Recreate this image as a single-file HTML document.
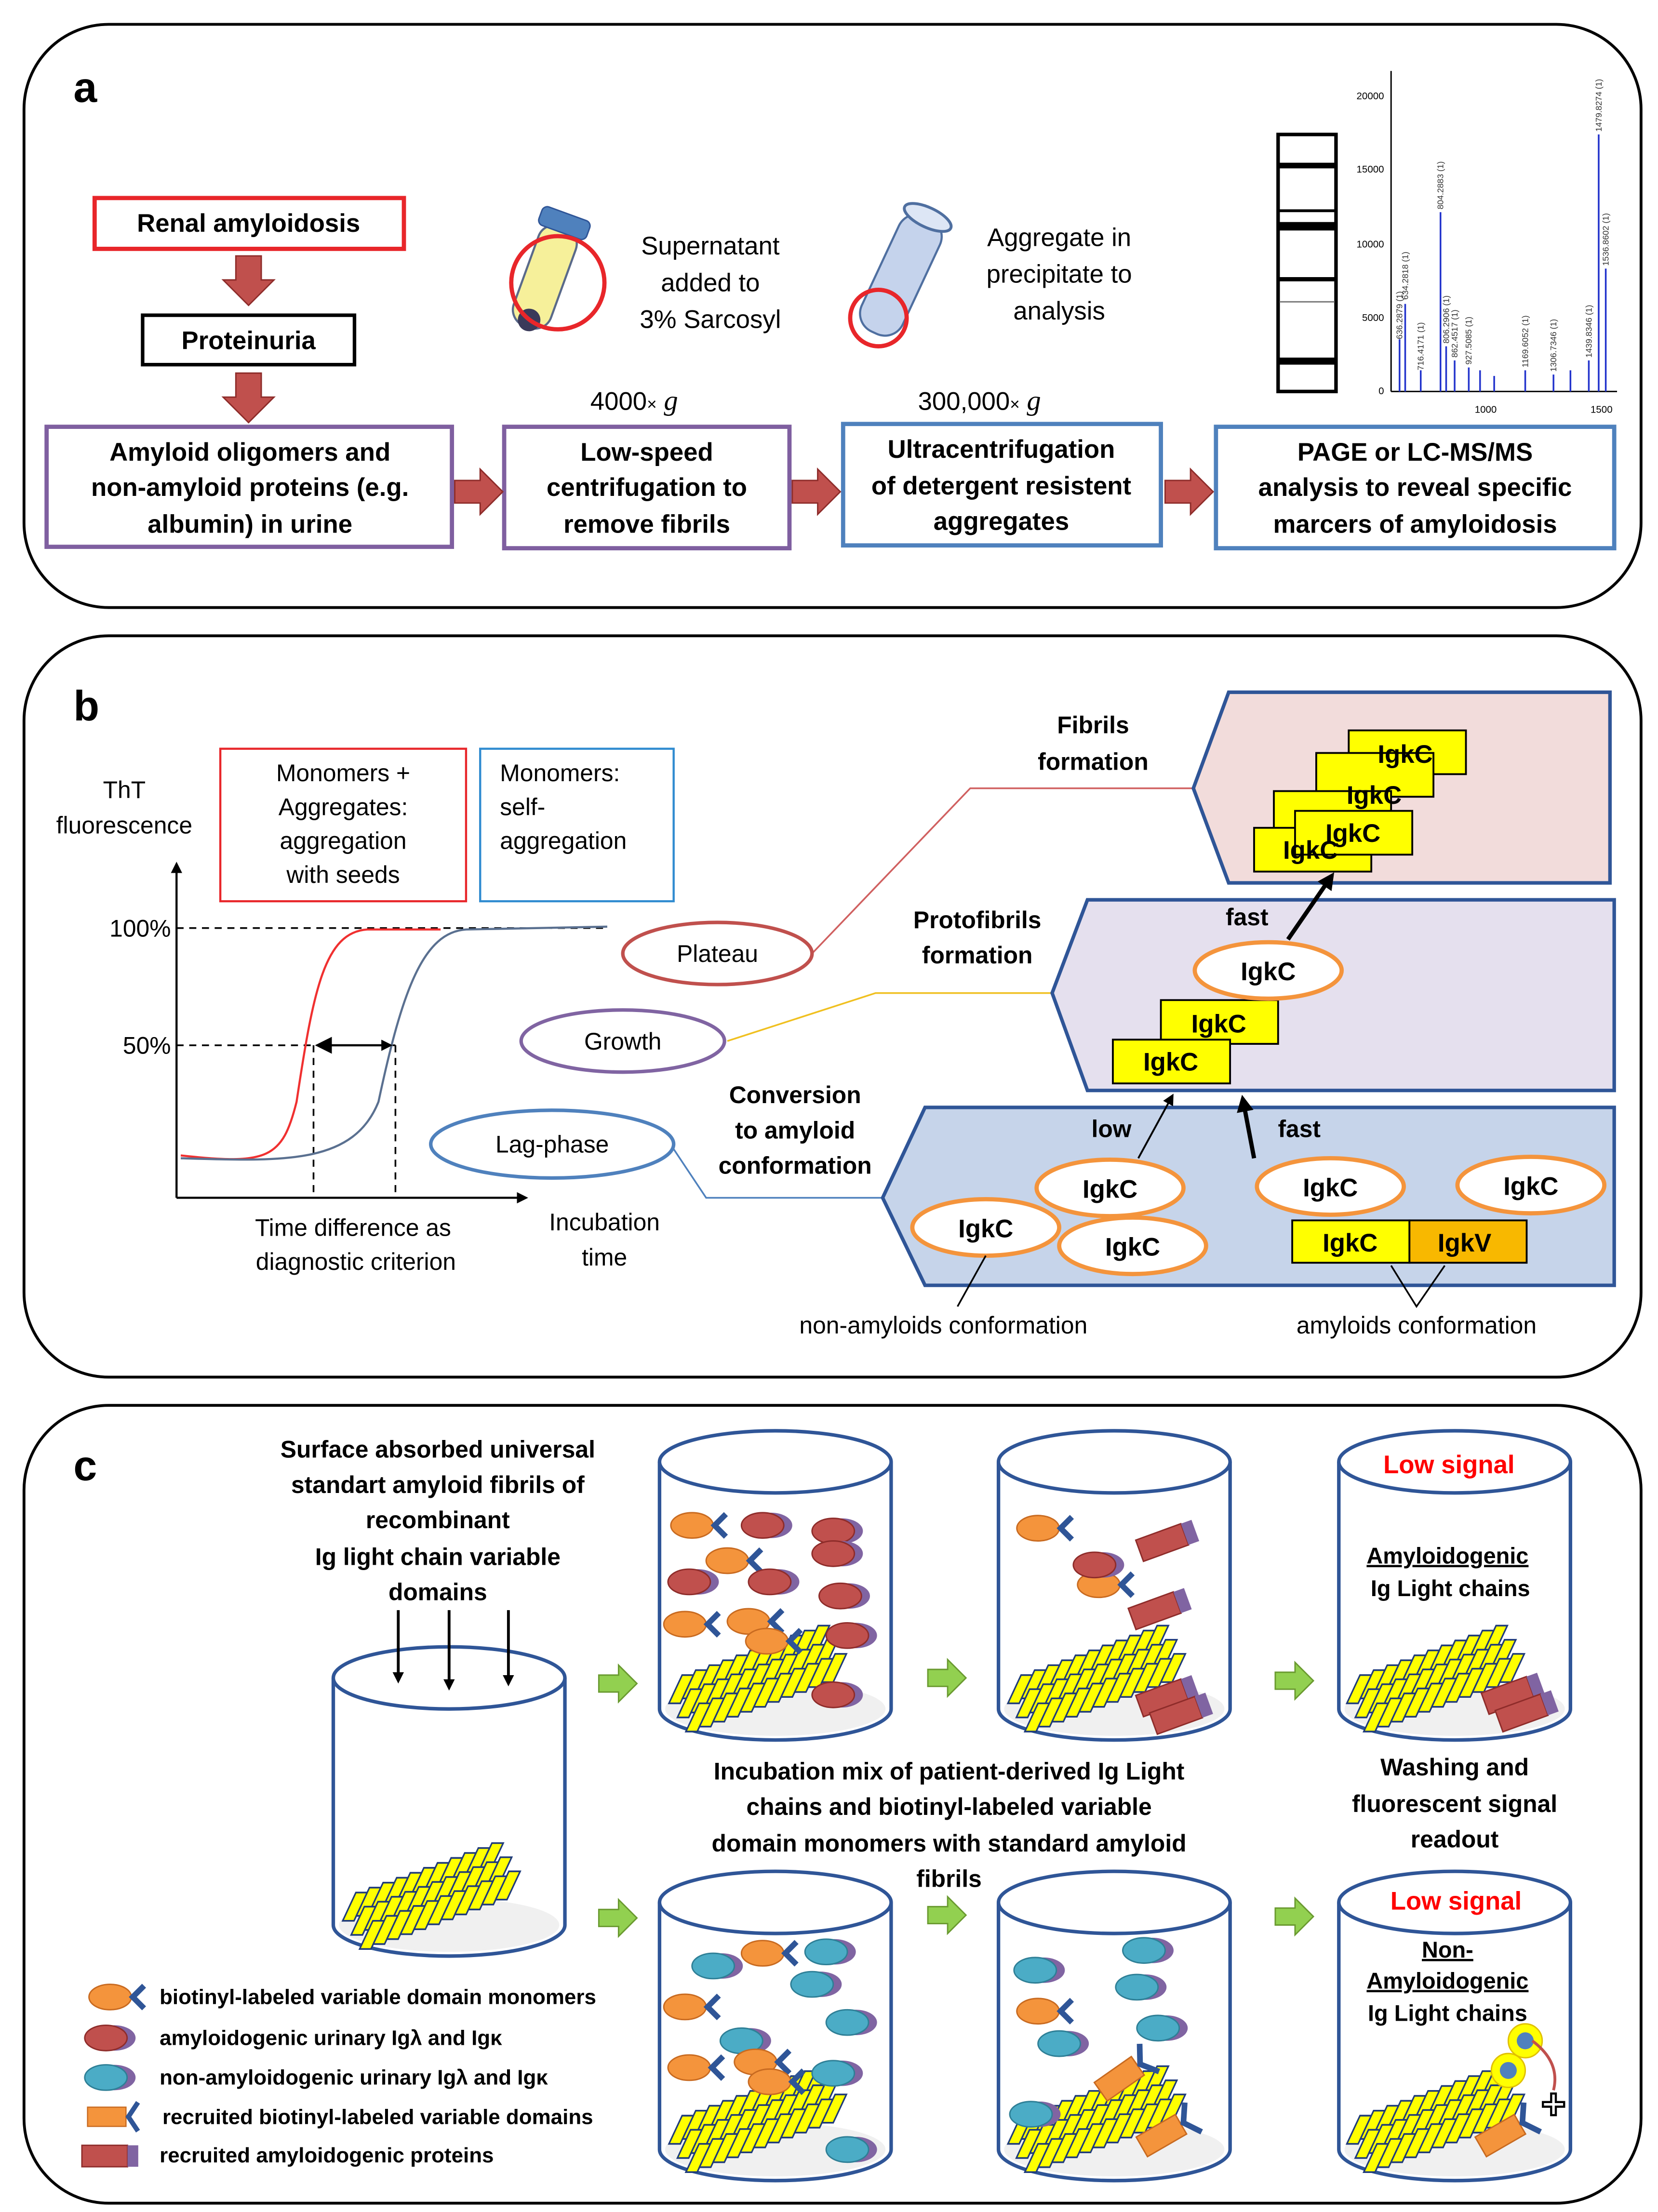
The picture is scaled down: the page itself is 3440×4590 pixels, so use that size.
<!DOCTYPE html>
<html><head><meta charset="utf-8"><style>
html,body{margin:0;padding:0;background:#fff}
svg{display:block}
text{font-family:"Liberation Sans",sans-serif}
.b{font-weight:bold}
</style></head><body>
<svg width="3440" height="4590" viewBox="0 0 1174 1566" xmlns="http://www.w3.org/2000/svg">
<defs>
<marker id="ah" markerWidth="8" markerHeight="8" refX="6" refY="4" orient="auto" markerUnits="userSpaceOnUse"><path d="M0,0 L8,4 L0,8 z" fill="#000"/></marker>
<marker id="ah2" markerWidth="12" markerHeight="12" refX="9" refY="6" orient="auto" markerUnits="userSpaceOnUse"><path d="M0,0 L12,6 L0,12 z" fill="#000"/></marker>
<marker id="ahs" markerWidth="12" markerHeight="12" refX="3" refY="6" orient="auto" markerUnits="userSpaceOnUse"><path d="M12,0 L0,6 L12,12 z" fill="#000"/></marker>
<g id="fib">
 <g transform="skewX(-25)" fill="#ffff00" stroke="#1f3b7a" stroke-width="1.2">
 <rect x="0" y="0" width="8" height="20"/><rect x="8" y="-3.5" width="8" height="20"/><rect x="16" y="-7" width="8" height="20"/><rect x="24" y="-10.5" width="8" height="20"/><rect x="32" y="-14" width="8" height="20"/><rect x="40" y="-17.5" width="8" height="20"/><rect x="48" y="-21" width="8" height="20"/><rect x="56" y="-24.5" width="8" height="20"/><rect x="64" y="-28" width="8" height="20"/><rect x="72" y="-31.5" width="8" height="20"/><rect x="80" y="-35" width="8" height="20"/>
 </g>
</g>
<g id="stack"><use href="#fib" x="0" y="0"/><use href="#fib" x="6" y="10"/><use href="#fib" x="12" y="20"/></g>
<g id="cylT">
 <path d="M0,0 L0,175 A82,22 0 0 0 164,175 L164,0" fill="#fff" stroke="#2f5597" stroke-width="2.5"/>
 <ellipse cx="82" cy="175" rx="78" ry="19" fill="#f0f0f0"/>
 <ellipse cx="82" cy="0" rx="82" ry="22" fill="#fff" stroke="#2f5597" stroke-width="2.5"/>
</g>
<g id="orn"><ellipse cx="0" cy="0" rx="15" ry="9" fill="#f4943c" stroke="#c86a20" stroke-width="1"/><path d="M24,-8 L16,0 L24,8" fill="none" stroke="#2f5597" stroke-width="4"/></g>
<g id="red"><ellipse cx="6" cy="0" rx="15" ry="9" fill="#8064a2"/><ellipse cx="0" cy="0" rx="15" ry="9" fill="#c0504d" stroke="#8e2c2a" stroke-width="1"/></g>
<g id="cyn"><ellipse cx="6" cy="0" rx="15" ry="9" fill="#8064a2"/><ellipse cx="0" cy="0" rx="15" ry="9" fill="#4bacc6" stroke="#2e7f96" stroke-width="1"/></g>
<g id="redr"><rect x="0" y="0" width="34" height="16" fill="#c0504d" stroke="#8e2c2a"/><rect x="34" y="0" width="8" height="16" fill="#8064a2"/></g>
<g id="orr"><rect x="0" y="0" width="32" height="16" fill="#f4943c" stroke="#c86a20"/><path d="M42,-4 L34,8 L42,20" fill="none" stroke="#2f5597" stroke-width="4"/></g>
<g id="garr"><polygon points="0,-6 14,-6 14,-13 27,0 14,13 14,6 0,6" fill="#92d050" stroke="#6a9a30" stroke-width="1"/></g>
<g id="rarr"><polygon points="0,-8 18,-8 18,-16 34,0 18,16 18,8 0,8" fill="#c0504d" stroke="#8e2c2a" stroke-width="1"/></g>
<g id="darr"><polygon points="-9,0 9,0 9,17 18,17 0,35 -18,17 -9,17" fill="#c0504d" stroke="#8e2c2a" stroke-width="1"/></g>
</defs>
<rect width="1174" height="1566" fill="#fff"/>

<!-- Panel a -->
<rect x="17" y="17" width="1145" height="413" rx="60" fill="#fff" stroke="#000" stroke-width="2"/>
<text x="52" y="72" font-size="30" class="b">a</text>
<rect x="67" y="140" width="219" height="36" fill="#fff" stroke="#e8262a" stroke-width="3"/>
<text x="176" y="164" font-size="18" class="b" text-anchor="middle">Renal amyloidosis</text>
<use href="#darr" x="176" y="181"/>
<rect x="101" y="223" width="150" height="35" fill="#fff" stroke="#000" stroke-width="2.5"/>
<text x="176" y="247" font-size="18" class="b" text-anchor="middle">Proteinuria</text>
<use href="#darr" x="176" y="264"/>
<g font-size="18" class="b" text-anchor="middle">
<rect x="33" y="302" width="287" height="85" fill="#fff" stroke="#7f5fa0" stroke-width="3"/>
<text x="177" y="326">Amyloid oligomers and</text><text x="177" y="351">non-amyloid proteins (e.g.</text><text x="177" y="377">albumin) in urine</text>
<rect x="357" y="302" width="202" height="86" fill="#fff" stroke="#7f5fa0" stroke-width="3"/>
<text x="458" y="326">Low-speed</text><text x="458" y="351">centrifugation to</text><text x="458" y="377">remove fibrils</text>
<rect x="597" y="300" width="225" height="86" fill="#fff" stroke="#4f81bd" stroke-width="3"/>
<text x="709" y="324">Ultracentrifugation</text><text x="709" y="350">of detergent resistent</text><text x="709" y="375">aggregates</text>
<rect x="861" y="302" width="282" height="86" fill="#fff" stroke="#4f81bd" stroke-width="3"/>
<text x="1002" y="326">PAGE or LC-MS/MS</text><text x="1002" y="351">analysis to reveal specific</text><text x="1002" y="377">marcers of amyloidosis</text>
</g>
<use href="#rarr" x="322" y="348"/><use href="#rarr" x="561" y="348"/><use href="#rarr" x="825" y="348"/>
<text x="418" y="290" font-size="18">4000<tspan font-size="12">×</tspan> <tspan font-family="Liberation Serif" font-style="italic" font-size="20">g</tspan></text>
<text x="650" y="290" font-size="18">300,000<tspan font-size="12">×</tspan> <tspan font-family="Liberation Serif" font-style="italic" font-size="20">g</tspan></text>
<g transform="rotate(20 385 195)">
<rect x="372" y="158" width="28" height="75" rx="12" fill="#f6f09a" stroke="#5a6a8a" stroke-width="1.5"/>
<rect x="368" y="148" width="36" height="14" rx="4" fill="#4f81bd" stroke="#2f5597"/>
<circle cx="386" cy="228" r="8" fill="#3a3a5a"/>
</g>
<circle cx="395" cy="200" r="33" fill="none" stroke="#e8262a" stroke-width="3"/>
<g font-size="18" text-anchor="middle"><text x="503" y="180">Supernatant</text><text x="503" y="206">added to</text><text x="503" y="232">3% Sarcosyl</text>
<text x="750" y="174">Aggregate in</text><text x="750" y="200">precipitate to</text><text x="750" y="226">analysis</text></g>
<g transform="rotate(25 640 190)">
<rect x="624" y="150" width="32" height="90" rx="14" fill="#c5d3ec" stroke="#4f6fa0" stroke-width="1.5"/>
<ellipse cx="640" cy="150" rx="18" ry="7" fill="#dde6f5" stroke="#4f6fa0" stroke-width="2"/>
</g>
<circle cx="622" cy="225" r="20" fill="none" stroke="#e8262a" stroke-width="3"/>
<rect x="905" y="95" width="41" height="182" fill="#fff" stroke="#000" stroke-width="2.5"/>
<g fill="#000"><rect x="906" y="115" width="39" height="4"/><rect x="906" y="148" width="39" height="2"/><rect x="906" y="157" width="39" height="6"/><rect x="906" y="196" width="39" height="3"/><rect x="906" y="213" width="39" height="1" fill="#777"/><rect x="906" y="253" width="39" height="5"/></g>
<g font-size="7">
<line x1="985" y1="50" x2="985" y2="277" stroke="#000"/><line x1="985" y1="277" x2="1145" y2="277" stroke="#000"/>
<text x="980" y="70" text-anchor="end">20000</text><text x="980" y="122" text-anchor="end">15000</text><text x="980" y="175" text-anchor="end">10000</text><text x="980" y="227" text-anchor="end">5000</text><text x="980" y="279" text-anchor="end">0</text>
<text x="1052" y="292" text-anchor="middle">1000</text><text x="1134" y="292" text-anchor="middle">1500</text>
<g stroke="#2233cc" stroke-width="1.2">
<line x1="991" y1="277" x2="991" y2="240"/><line x1="995" y1="277" x2="995" y2="215"/><line x1="1006" y1="277" x2="1006" y2="262"/><line x1="1020" y1="277" x2="1020" y2="150"/><line x1="1024" y1="277" x2="1024" y2="245"/><line x1="1030" y1="277" x2="1030" y2="255"/><line x1="1040" y1="277" x2="1040" y2="260"/><line x1="1048" y1="277" x2="1048" y2="262"/><line x1="1058" y1="277" x2="1058" y2="266"/><line x1="1080" y1="277" x2="1080" y2="262"/><line x1="1100" y1="277" x2="1100" y2="265"/><line x1="1112" y1="277" x2="1112" y2="262"/><line x1="1125" y1="277" x2="1125" y2="255"/><line x1="1132" y1="277" x2="1132" y2="95"/><line x1="1137" y1="277" x2="1137" y2="190"/>
</g>
<g fill="#333" font-size="6">
<text transform="translate(993 240) rotate(-90)">636.2879 (1)</text><text transform="translate(997 212) rotate(-90)">634.2818 (1)</text><text transform="translate(1008 262) rotate(-90)">716.4171 (1)</text><text transform="translate(1022 148) rotate(-90)">804.2883 (1)</text><text transform="translate(1026 243) rotate(-90)">806.2906 (1)</text><text transform="translate(1032 253) rotate(-90)">862.4517 (1)</text><text transform="translate(1042 258) rotate(-90)">927.5085 (1)</text><text transform="translate(1134 93) rotate(-90)">1479.8274 (1)</text><text transform="translate(1139 188) rotate(-90)">1536.8602 (1)</text><text transform="translate(1127 253) rotate(-90)">1439.8346 (1)</text><text transform="translate(1102 263) rotate(-90)">1306.7346 (1)</text><text transform="translate(1082 260) rotate(-90)">1169.6052 (1)</text>
</g></g>

<!-- Panel b -->
<rect x="17" y="450" width="1145" height="525" rx="60" fill="#fff" stroke="#000" stroke-width="2"/>
<text x="52" y="510" font-size="30" class="b">b</text>
<g font-size="17" text-anchor="middle"><text x="88" y="565">ThT</text><text x="88" y="590">fluorescence</text></g>
<rect x="156" y="530" width="174" height="108" fill="#fff" stroke="#e8262a" stroke-width="1.5"/>
<g font-size="17" text-anchor="middle"><text x="243" y="553">Monomers +</text><text x="243" y="577">Aggregates:</text><text x="243" y="601">aggregation</text><text x="243" y="625">with seeds</text></g>
<rect x="340" y="530" width="137" height="108" fill="#fff" stroke="#2f8bd0" stroke-width="1.5"/>
<g font-size="17"><text x="354" y="553">Monomers:</text><text x="354" y="577">self-</text><text x="354" y="601">aggregation</text></g>
<line x1="125" y1="848" x2="125" y2="612" stroke="#000" stroke-width="1.5" marker-end="url(#ah)"/>
<line x1="125" y1="848" x2="372" y2="848" stroke="#000" stroke-width="1.5" marker-end="url(#ah)"/>
<g font-size="17" text-anchor="end"><text x="121" y="663">100%</text><text x="121" y="746">50%</text></g>
<g stroke="#000" stroke-dasharray="5,4" stroke-width="1.2"><line x1="125" y1="657" x2="430" y2="657"/><line x1="125" y1="740" x2="280" y2="740"/><line x1="222" y1="740" x2="222" y2="848"/><line x1="280" y1="740" x2="280" y2="848"/></g>
<path d="M128,818 C190,825 200,820 210,780 C222,700 230,660 260,658 L312,658" fill="none" stroke="#f03030" stroke-width="1.5"/>
<path d="M128,820 C200,822 250,825 268,780 C285,700 300,660 330,658 L430,656" fill="none" stroke="#5a7090" stroke-width="1.5"/>
<line x1="226" y1="740" x2="276" y2="740" stroke="#000" stroke-width="1.5" marker-end="url(#ah)" marker-start="url(#ahs)"/>
<g font-size="17" text-anchor="middle"><text x="250" y="875">Time difference as</text><text x="252" y="899">diagnostic criterion</text><text x="428" y="871">Incubation</text><text x="428" y="896">time</text></g>
<polyline points="575,675 687,558 845,558" fill="none" stroke="#d06060" stroke-width="1.2"/>
<polyline points="515,737 620,703 745,703" fill="none" stroke="#f0c020" stroke-width="1.2"/>
<polyline points="476,812 500,848 625,848" fill="none" stroke="#4f81bd" stroke-width="1.2"/>
<ellipse cx="508" cy="675" rx="67" ry="22" fill="#fff" stroke="#c0504d" stroke-width="2.5"/>
<text x="508" y="681" font-size="17" text-anchor="middle">Plateau</text>
<ellipse cx="441" cy="737" rx="72" ry="22" fill="#fff" stroke="#8064a2" stroke-width="2.5"/>
<text x="441" y="743" font-size="17" text-anchor="middle">Growth</text>
<ellipse cx="391" cy="810" rx="86" ry="24" fill="#fff" stroke="#4f81bd" stroke-width="2.5"/>
<text x="391" y="816" font-size="17" text-anchor="middle">Lag-phase</text>
<polygon points="845,558 870,490 1140,490 1140,625 870,625" fill="#f2dcdb" stroke="#2f5597" stroke-width="2.5"/>
<polygon points="745,703 770,637 1143,637 1143,772 770,772" fill="#e5e0ee" stroke="#2f5597" stroke-width="2.5"/>
<polygon points="625,848 655,784 1143,784 1143,910 655,910" fill="#c6d4ea" stroke="#2f5597" stroke-width="2.5"/>
<g font-size="17" class="b" text-anchor="middle"><text x="774" y="519">Fibrils</text><text x="774" y="545">formation</text><text x="692" y="657">Protofibrils</text><text x="692" y="682">formation</text><text x="563" y="781">Conversion</text><text x="563" y="806">to amyloid</text><text x="563" y="831">conformation</text>
<text x="883" y="655">fast</text><text x="787" y="805">low</text><text x="920" y="805">fast</text></g>
<g stroke="#000" stroke-width="1.3">
<rect x="955" y="517" width="83" height="31" fill="#ffff00"/><rect x="932" y="533" width="83" height="31" fill="#ffff00"/><rect x="902" y="560" width="83" height="31" fill="#ffff00"/><rect x="888" y="586" width="83" height="31" fill="#ffff00"/><rect x="917" y="574" width="83" height="31" fill="#ffff00"/>
<rect x="822" y="708" width="83" height="31" fill="#ffff00"/><rect x="788" y="736" width="83" height="31" fill="#ffff00"/>
<rect x="915" y="864" width="83" height="30" fill="#ffff00"/><rect x="998" y="864" width="83" height="30" fill="#f8b800"/>
</g>
<g font-size="18" class="b" text-anchor="middle">
<text x="995" y="540">IgkC</text><text x="973" y="569">IgkC</text><text x="958" y="596">IgkC</text><text x="928" y="608">IgkC</text>
<text x="863" y="731">IgkC</text><text x="829" y="758">IgkC</text><text x="956" y="886">IgkC</text><text x="1037" y="886">IgkV</text>
</g>
<g stroke="#f4943c" stroke-width="3" fill="#fff"><ellipse cx="898" cy="687" rx="52" ry="20"/><ellipse cx="786" cy="841" rx="52" ry="20"/><ellipse cx="698" cy="869" rx="52" ry="20"/><ellipse cx="802" cy="882" rx="52" ry="20"/><ellipse cx="942" cy="840" rx="52" ry="20"/><ellipse cx="1084" cy="839" rx="52" ry="20"/></g>
<g font-size="18" class="b" text-anchor="middle"><text x="898" y="694">IgkC</text><text x="786" y="848">IgkC</text><text x="698" y="876">IgkC</text><text x="802" y="889">IgkC</text><text x="942" y="847">IgkC</text><text x="1084" y="846">IgkC</text></g>
<line x1="912" y1="665" x2="943" y2="620" stroke="#000" stroke-width="3" marker-end="url(#ah2)"/>
<line x1="806" y1="820" x2="830" y2="776" stroke="#000" stroke-width="1.3" marker-end="url(#ah)"/>
<line x1="888" y1="820" x2="880" y2="778" stroke="#000" stroke-width="3" marker-end="url(#ah2)"/>
<polyline points="678,925 698,889" fill="none" stroke="#000" stroke-width="1.2"/>
<polyline points="985,896 1003,925 1023,896" fill="none" stroke="#000" stroke-width="1.2"/>
<g font-size="17" text-anchor="middle"><text x="668" y="944">non-amyloids conformation</text><text x="1003" y="944">amyloids conformation</text></g>

<!-- Panel c -->
<rect x="17" y="995" width="1145" height="565" rx="60" fill="#fff" stroke="#000" stroke-width="2"/>
<text x="52" y="1048" font-size="30" class="b">c</text>
<g font-size="17" class="b" text-anchor="middle">
<text x="310" y="1032">Surface absorbed universal</text><text x="310" y="1057">standart amyloid fibrils of</text><text x="310" y="1082">recombinant</text><text x="310" y="1108">Ig light chain variable</text><text x="310" y="1133">domains</text>
<text x="672" y="1260">Incubation mix of patient-derived Ig Light</text><text x="672" y="1285">chains and biotinyl-labeled variable</text><text x="672" y="1311">domain monomers with standard amyloid</text><text x="672" y="1336">fibrils</text>
<text x="1030" y="1257">Washing and</text><text x="1030" y="1283">fluorescent signal</text><text x="1030" y="1308">readout</text>
</g>
<use href="#cylT" x="236" y="1188"/>
<use href="#cylT" x="467" y="1035"/><use href="#cylT" x="707" y="1035"/><use href="#cylT" x="948" y="1035"/>
<use href="#cylT" x="467" y="1347"/><use href="#cylT" x="707" y="1347"/><use href="#cylT" x="948" y="1347"/>
<g stroke="#000" stroke-width="2"><line x1="282" y1="1140" x2="282" y2="1190" marker-end="url(#ah)"/><line x1="318" y1="1140" x2="318" y2="1195" marker-end="url(#ah)"/><line x1="360" y1="1140" x2="360" y2="1192" marker-end="url(#ah)"/></g>
<use href="#garr" x="424" y="1192"/><use href="#garr" x="657" y="1188"/><use href="#garr" x="903" y="1190"/>
<use href="#garr" x="424" y="1358"/><use href="#garr" x="657" y="1356"/><use href="#garr" x="903" y="1357"/>
<use href="#stack" x="252" y="1340"/>
<use href="#stack" x="483" y="1186"/><use href="#stack" x="723" y="1186"/><use href="#stack" x="963" y="1186"/>
<use href="#stack" x="483" y="1498"/><use href="#stack" x="723" y="1498"/><use href="#stack" x="963" y="1498"/>
<use href="#orn" x="490" y="1080"/><use href="#red" x="540" y="1080"/><use href="#red" x="590" y="1084"/><use href="#red" x="590" y="1100"/>
<use href="#red" x="488" y="1120"/><use href="#orn" x="515" y="1105"/><use href="#red" x="545" y="1120"/><use href="#red" x="595" y="1130"/>
<use href="#orn" x="485" y="1150"/><use href="#orn" x="530" y="1148"/><use href="#orn" x="543" y="1162"/><use href="#red" x="600" y="1158"/>
<use href="#red" x="590" y="1200"/>
<use href="#orn" x="735" y="1082"/><use href="#orn" x="778" y="1122"/><use href="#red" x="775" y="1108"/>
<g transform="rotate(-20 820 1090)"><use href="#redr" x="805" y="1085"/></g><g transform="rotate(-20 810 1140)"><use href="#redr" x="800" y="1135"/></g>
<g transform="rotate(-20 820 1200)"><use href="#redr" x="805" y="1195"/><use href="#redr" x="810" y="1210"/></g>
<g transform="rotate(-20 1060 1200)"><use href="#redr" x="1050" y="1195"/><use href="#redr" x="1055" y="1210"/></g>
<text x="1026" y="1043" font-size="18" class="b" fill="#ff0000" text-anchor="middle">Low signal</text>
<text x="1025" y="1107" font-size="16" class="b" text-anchor="middle" text-decoration="underline">Amyloidogenic</text>
<text x="1027" y="1130" font-size="16" class="b" text-anchor="middle">Ig Light chains</text>
<use href="#cyn" x="505" y="1392"/><use href="#orn" x="540" y="1383"/><use href="#cyn" x="585" y="1382"/><use href="#cyn" x="575" y="1405"/>
<use href="#orn" x="485" y="1421"/><use href="#cyn" x="600" y="1432"/><use href="#cyn" x="525" y="1445"/><use href="#orn" x="488" y="1464"/>
<use href="#orn" x="535" y="1460"/><use href="#orn" x="545" y="1474"/><use href="#cyn" x="590" y="1468"/><use href="#cyn" x="600" y="1522"/>
<use href="#cyn" x="733" y="1395"/><use href="#cyn" x="810" y="1381"/><use href="#cyn" x="805" y="1407"/><use href="#orn" x="735" y="1424"/><use href="#cyn" x="820" y="1436"/><use href="#cyn" x="750" y="1447"/><use href="#cyn" x="730" y="1497"/>
<g transform="rotate(-35 790 1470)"><use href="#orr" x="775" y="1465"/></g>
<g transform="rotate(-30 820 1510)"><use href="#orr" x="805" y="1505"/></g>
<g transform="rotate(-30 1060 1510)"><use href="#orr" x="1045" y="1505"/></g>
<circle cx="1080" cy="1445" r="12" fill="#ffff00" stroke="#e0c000"/><circle cx="1080" cy="1445" r="6" fill="#4f81bd"/>
<circle cx="1068" cy="1466" r="12" fill="#ffff00" stroke="#e0c000"/><circle cx="1068" cy="1466" r="6" fill="#4f81bd"/>
<path d="M1085,1445 Q1105,1460 1100,1480" fill="none" stroke="#c0504d" stroke-width="2"/>
<text x="1100" y="1500" font-size="30" class="b" fill="#fff" stroke="#000" stroke-width="1.5" text-anchor="middle">+</text>
<text x="1031" y="1352" font-size="18" class="b" fill="#ff0000" text-anchor="middle">Low signal</text>
<g font-size="16" class="b" text-anchor="middle"><text x="1025" y="1386" text-decoration="underline">Non-</text><text x="1025" y="1408" text-decoration="underline">Amyloidogenic</text><text x="1025" y="1431">Ig Light chains</text></g>
<use href="#orn" x="78" y="1414"/><use href="#red" x="75" y="1443"/><use href="#cyn" x="75" y="1471"/>
<g transform="translate(62 1492) scale(0.85)"><use href="#orr" x="0" y="0"/></g>
<g transform="translate(58 1519) scale(0.95)"><use href="#redr" x="0" y="0"/></g>
<g font-size="15" class="b"><text x="113" y="1419">biotinyl-labeled variable domain monomers</text><text x="113" y="1448">amyloidogenic urinary Igλ and  Igκ</text><text x="113" y="1476">non-amyloidogenic urinary Igλ and  Igκ</text><text x="115" y="1504">recruited biotinyl-labeled variable domains</text><text x="113" y="1531">recruited amyloidogenic proteins</text></g>
</svg>
</body></html>
